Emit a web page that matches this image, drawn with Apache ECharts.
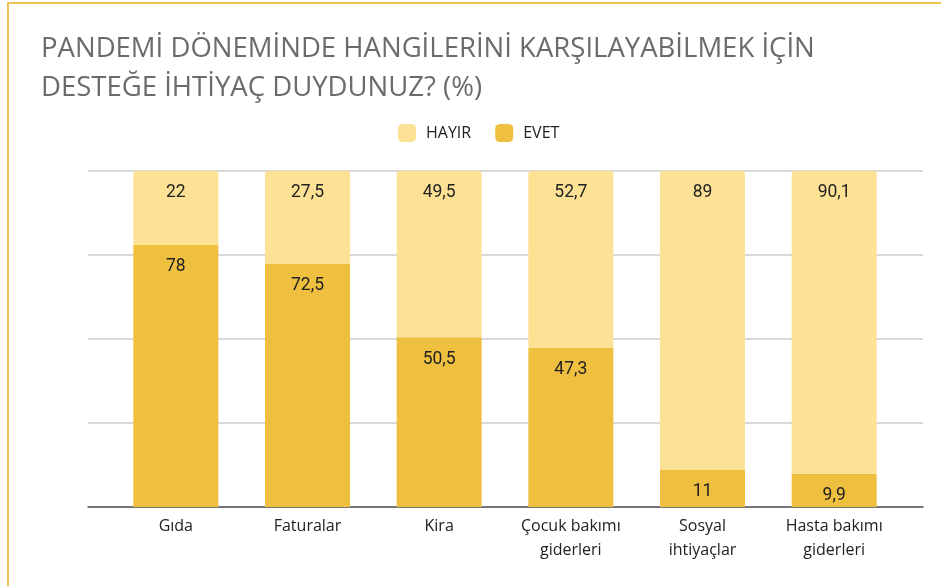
<!DOCTYPE html>
<html>
<head>
<meta charset="utf-8">
<script src="https://cdn.jsdelivr.net/npm/echarts@6/dist/echarts.min.js"></script>
<style>
  html, body { margin: 0; padding: 0; background: #fff; }
  #frame { position: absolute; left: 7px; top: 2px; width: 934px; height: 584px;
           border-left: 2px solid #f1c450; border-top: 2px solid #f1c450; box-sizing: border-box; }
  #chart { position: absolute; left: 0; top: 0; width: 941px; height: 586px; }
</style>
</head>
<body>
<div id="frame"></div>
<div id="chart"></div>
<script>
// Support needs during the pandemic (%)
const categories = ['Gıda', 'Faturalar', 'Kira', 'Çocuk bakımı\ngiderleri', 'Sosyal\nihtiyaçlar', 'Hasta bakımı\ngiderleri'];
const evet  = [78, 72.5, 50.5, 47.3, 11, 9.9];
const hayir = [22, 27.5, 49.5, 52.7, 89, 90.1];
const yTicks = [0, 25, 50, 75, 100];

const COLOR_EVET = '#efbf40';
const COLOR_HAYIR = '#fde195';
const fmt = p => String(p.value).replace('.', ',');

const chart = echarts.init(document.getElementById('chart'), null, { renderer: 'canvas' });
chart.setOption({
  animation: false,
  title: {
    text: 'PANDEMİ DÖNEMİNDE HANGİLERİNİ KARŞILAYABİLMEK İÇİN\nDESTEĞE İHTİYAÇ DUYDUNUZ? (%)',
    left: 36, top: 25,
    textStyle: { fontFamily: 'Open Sans, sans-serif',
                 fontSize: 27.5, fontWeight: 'normal', color: '#6b6b6b', lineHeight: 39 }
  },
  legend: {
    data: ['HAYIR', 'EVET'],
    left: 393, top: 119,
    itemWidth: 18, itemHeight: 18, itemGap: 24,
    icon: 'roundRect',
    textStyle: { fontFamily: 'Open Sans, sans-serif', fontSize: 16, color: '#222', padding: [0, 0, 0, 5] }
  },
  grid: [
    { left: 88, right: 18, top: 171, bottom: 79 },
    { left: 110, right: 41, top: 171, bottom: 79 }
  ],
  xAxis: [
    { gridIndex: 0, type: 'category', data: categories, axisLabel: { show: false },
      axisTick: { show: false }, axisLine: { lineStyle: { color: '#555', width: 1.5 } } },
    { gridIndex: 1, type: 'category', data: categories, axisTick: { show: false },
      axisLine: { show: false },
      axisLabel: { margin: 7, fontFamily: 'Open Sans, sans-serif', fontSize: 16, color: '#222', lineHeight: 24 } }
  ],
  yAxis: [
    { gridIndex: 0, type: 'value', min: yTicks[0], max: yTicks[yTicks.length - 1], interval: 25,
      axisLabel: { show: false }, axisLine: { show: false }, axisTick: { show: false },
      splitLine: { lineStyle: { color: '#cccccc', width: 1.5 } } },
    { gridIndex: 1, type: 'value', min: 0, max: 100, show: false, splitLine: { show: false } }
  ],
  series: [
    {
      name: 'EVET', type: 'bar', stack: 'total', xAxisIndex: 1, yAxisIndex: 1,
      data: evet, barWidth: 85, itemStyle: { color: COLOR_EVET },
      label: { show: true, position: 'insideTop', distance: 13, formatter: fmt,
               fontFamily: 'Roboto, sans-serif', fontSize: 17.5, color: '#222' }
    },
    {
      name: 'HAYIR', type: 'bar', stack: 'total', xAxisIndex: 1, yAxisIndex: 1,
      data: hayir, barWidth: 85, itemStyle: { color: COLOR_HAYIR, borderRadius: [3, 3, 0, 0] },
      label: { show: true, position: 'insideTop', distance: 13, formatter: fmt,
               fontFamily: 'Roboto, sans-serif', fontSize: 17.5, color: '#222' }
    }
  ]
});
</script>
</body>
</html>
